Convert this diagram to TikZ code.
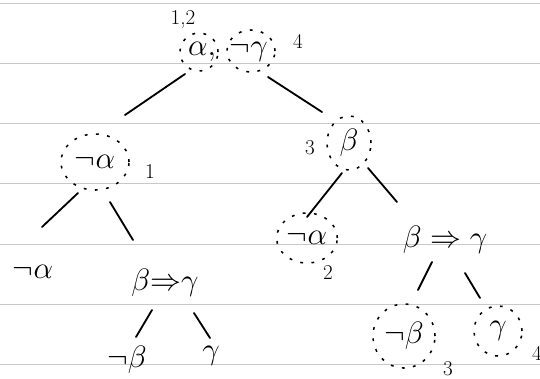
\documentclass[tikz,border=0pt]{standalone}
\usepackage{fix-cm}
\usepackage{amsmath}
\usepackage{tikz}
\usetikzlibrary{shapes.geometric, calc}
\definecolor{paperline}{RGB}{200,200,200}
\tikzset{
  lbl/.style={inner sep=1pt, font=\fontsize{22}{26}\selectfont},
  ring/.style={ellipse, draw, dash pattern=on 2pt off 6pt, line width=1.1pt},
  note/.style={inner sep=0pt, font=\fontsize{15}{17}\selectfont},
  edge/.style={line width=1.3pt, line cap=round},
  rule/.style={paperline, line width=0.5pt}
}

\begin{document}
\begin{tikzpicture}[x=0.025cm, y=-0.025cm]
  \useasboundingbox (0,0) rectangle (540,378);

  % Ruled paper
  \foreach \ly in {3,63,123,183,244,304,364}
    \draw[rule] (0,\ly) -- (540,\ly);

  % Root
  \node[lbl] (root) at (228,52) {$\alpha,\;\neg\gamma$};
  \node[ring, minimum width=0.95cm, minimum height=0.95cm] (ringa) at (199,52) {};
  \node[ring, minimum width=1.2cm, minimum height=1.05cm] (ringg) at (251,51) {};
  \node[note] (n12) at (183,20) {1,2};
  \node[note] (n4a) at (298,41) {4};

  % Second level
  \node[lbl, ring, minimum width=1.7cm, minimum height=1.4cm] (na1) at (95,162) {$\neg\alpha$};
  \node[note] (n1) at (150,172) {1};
  \node[lbl, ring, minimum width=1.1cm, minimum height=1.35cm] (b3) at (349,143) {$\beta$};
  \node[note] (n3a) at (310,148) {3};

  % Left branch
  \node[lbl] (na2) at (33,272) {$\neg\alpha$};
  \node[lbl] (bg1) at (165,283) {$\beta{\Rightarrow}\gamma$};
  \node[lbl] (nb1) at (127,360) {$\neg\beta$};
  \node[lbl] (g1) at (211,356) {$\gamma$};

  % Right branch
  \node[lbl, ring, minimum width=1.35cm, minimum height=1.25cm] (na3) at (307,238) {$\neg\alpha$};
  \node[note] (n2) at (328,273) {2};
  \node[lbl] (bg2) at (445,240) {$\beta\Rightarrow\gamma$};
  \node[lbl, ring, minimum width=1.55cm, minimum height=1.6cm] (nb2) at (404,336) {$\neg\beta$};
  \node[note] (n3b) at (448,369) {3};
  \node[lbl, ring, minimum width=1.2cm, minimum height=1.25cm] (g2) at (498,331) {$\gamma$};
  \node[note] (n4b) at (537,353) {4};

  % Paths
  \draw[edge] ($(root)+(-43,22)$) -- ($(na1)+(30,-47)$);
  \draw[edge] ($(root)+(40,25)$) -- ($(b3)+(-27,-31)$);
  \draw[edge] ($(na1)+(-17,31)$) -- ($(na2)+(9,-45)$);
  \draw[edge] ($(na1)+(15,40)$) -- ($(bg1)+(-32,-43)$);
  \draw[edge] ($(b3)+(-7,30)$) -- ($(na3)+(0,-21)$);
  \draw[edge] ($(b3)+(19,25)$) -- ($(bg2)+(-48,-38)$);
  \draw[edge] ($(bg1)+(-13,27)$) -- ($(nb1)+(9,-23)$);
  \draw[edge] ($(bg1)+(29,30)$) -- ($(g1)+(-1,-18)$);
  \draw[edge] ($(bg2)+(-13,22)$) -- ($(nb2)+(14,-46)$);
  \draw[edge] ($(bg2)+(20,33)$) -- ($(g2)+(-18,-33)$);
\end{tikzpicture}
\end{document}
